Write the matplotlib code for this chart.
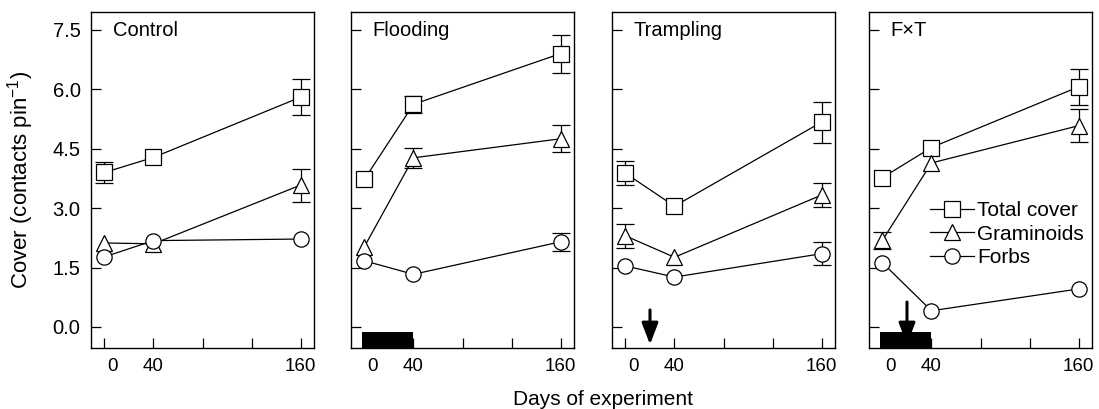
import numpy as np
import matplotlib
matplotlib.use("Agg")
import matplotlib.pyplot as plt
from matplotlib.lines import Line2D
from matplotlib.transforms import ScaledTranslation

plt.rcParams['font.family'] = ['Liberation Sans', 'DejaVu Sans']
plt.rcParams['font.size'] = 14.5
plt.rcParams['mathtext.fontset'] = 'custom'
plt.rcParams['mathtext.rm'] = 'Liberation Sans'

# Datos
dias = [0, 40, 160]
paneles = ['Control', 'Flooding', 'Trampling', 'F×T']

total = [[3.90, 4.28, 5.80],
         [3.73, 5.62, 6.90],
         [3.88, 3.05, 5.17],
         [3.77, 4.53, 6.06]]
total_err = [[0.27, 0.0, 0.46],
             [0.0, 0.22, 0.48],
             [0.30, 0.0, 0.52],
             [0.0, 0.0, 0.46]]

gram = [[2.12, 2.10, 3.58],
        [2.03, 4.27, 4.75],
        [2.30, 1.76, 3.33],
        [2.19, 4.14, 5.08]]
gram_err = [[0.0, 0.0, 0.42],
            [0.0, 0.26, 0.34],
            [0.30, 0.0, 0.30],
            [0.21, 0.0, 0.42]]

forbs = [[1.77, 2.18, 2.22],
         [1.67, 1.33, 2.15],
         [1.54, 1.26, 1.85],
         [1.62, 0.41, 0.96]]
forbs_err = [[0.0, 0.0, 0.0],
             [0.0, 0.0, 0.23],
             [0.0, 0.0, 0.29],
             [0.0, 0.0, 0.0]]

# barra negra = periodo de inundación, flecha = pisoteo
inundacion = [None, (-2, 40), None, (-2, 40)]
pisoteo = [None, None, (20, 0.43), (20, 0.63)]

W, H = 1099, 409
fig = plt.figure(figsize=(W / 100, H / 100), dpi=100)

izquierdas = [91, 351, 612, 869]
ancho = 223
arriba, abajo = 12, 348

series = [(total, total_err, 's', 'Total cover'),
          (gram, gram_err, '^', 'Graminoids'),
          (forbs, forbs_err, 'o', 'Forbs')]

for i, nombre in enumerate(paneles):
    ax = fig.add_axes([izquierdas[i] / W, (H - abajo) / H,
                       ancho / W, (abajo - arriba) / H])
    for vals, errs, mk, lab in series:
        y = np.array(vals[i])
        e = np.array(errs[i])
        ax.plot(dias, y, color='black', lw=0.9, zorder=2)
        m = e > 0
        if m.any():
            ax.errorbar(np.array(dias)[m], y[m], yerr=e[m], fmt='none',
                        ecolor='black', elinewidth=0.9, capsize=6.5,
                        capthick=0.9, zorder=1)
        ax.plot(dias, y, linestyle='none', marker=mk, markersize=11,
                mfc='white', mec='black', mew=0.9, zorder=3)

    if inundacion[i] is not None:
        a, b = inundacion[i]
        ax.fill_between([a, b], -0.53, -0.13, color='black', lw=0, zorder=4)
    if pisoteo[i] is not None:
        xa, ya = pisoteo[i]
        ax.annotate('', xy=(xa, -0.44), xytext=(xa, ya),
                    arrowprops=dict(arrowstyle='-|>,head_width=0.5,head_length=1.3',
                                    mutation_scale=10, color='black', lw=2.2,
                                    shrinkA=0, shrinkB=0),
                    zorder=5)

    ax.set_xlim(-11, 171)
    ax.set_ylim(-0.53, 7.95)
    ax.set_xticks([0, 40, 80, 120, 160])
    ax.set_xticklabels(['0', '40', '', '', '160'])
    ax.set_yticks([0, 1.5, 3.0, 4.5, 6.0, 7.5])
    if i == 0:
        ax.set_yticklabels(['0.0', '1.5', '3.0', '4.5', '6.0', '7.5'])
        ax.set_ylabel('Cover (contacts pin$^{-1}$)', fontsize=16)
        ax.yaxis.set_label_coords(-0.245, 0.5)
    else:
        ax.set_yticklabels([])
    ax.tick_params(direction='in', length=7, width=0.9)
    ax.tick_params(axis='y', pad=7.5, labelsize=14.5)
    ax.tick_params(axis='x', pad=7, labelsize=13.5)
    lab0 = ax.get_xticklabels()[0]
    lab0.set_transform(lab0.get_transform() +
                       ScaledTranslation(8 / 100, 0, fig.dpi_scale_trans))
    for s in ax.spines.values():
        s.set_linewidth(1.0)
    ax.text(0.098, 0.945, nombre, transform=ax.transAxes, va='center',
            ha='left', fontsize=14.5)

    if i == 3:
        handles = [Line2D([], [], color='black', lw=0.9, marker=mk, markersize=11,
                          mfc='white', mec='black', mew=0.9)
                   for _, _, mk, _ in series]
        ax.legend(handles, [s[3] for s in series], loc='center left',
                  bbox_to_anchor=(0.274, 0.339), frameon=False, borderpad=0,
                  borderaxespad=0, handlelength=2.1, handletextpad=0.15,
                  labelspacing=0.22, fontsize=15)

fig.text(603 / W, (H - 405) / H, 'Days of experiment', ha='center',
         va='baseline', fontsize=15)

plt.savefig('out.png', dpi=100)
